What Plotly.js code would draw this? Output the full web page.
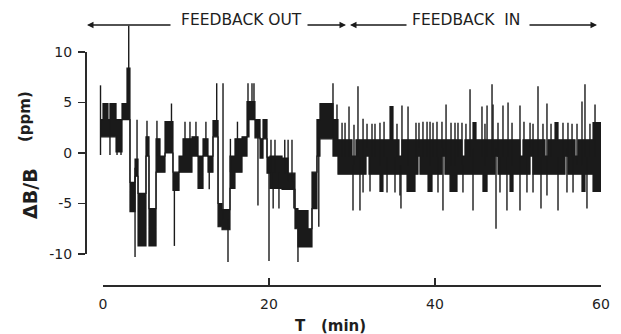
<!DOCTYPE html>
<html>
<head>
<meta charset="utf-8">
<script src="https://cdn.plot.ly/plotly-3.0.1.min.js"></script>
<style>html,body{margin:0;padding:0;background:#fff;}#chart{width:621px;height:334px;}</style>
</head>
<body>
<div id="chart"></div>
<script>
// ---- data (T in minutes, ΔB/B in ppm) ----
// band segments: start time, lower level, upper level (trace switches rapidly between them)
const segT  = [-0.36,0.00,0.60,0.84,1.57,2.29,2.89,3.25,3.86,4.22,5.18,5.54,6.39,6.87,7.47,8.43,9.16,9.64,10.72,11.45,12.05,12.65,13.25,13.86,14.34,15.30,15.90,16.75,17.35,17.59,18.31,18.92,19.28,19.76,20.12,21.57,22.29,23.13,23.49,24.70,25.18,25.78,26.14,27.71,
  28.31,30.00,30.48,31.69,32.05,33.37,33.73,34.58,34.94,35.66,36.02,36.63,37.59,37.95,38.19,39.16,39.64,40.84,41.20,41.81,42.65,43.25,43.61,44.58,44.94,45.78,46.27,47.23,47.59,49.04,49.40,50.24,50.60,51.45,51.81,53.25,53.61,54.46,54.82,55.66,56.02,56.87,57.23,57.71,58.07,59.04];
const segLo = [1.6,1.6,1.6,1.6,0.1,3.3,3.3,-5.8,-2.3,-9.2,-0.3,-9.2,-1.9,-1.9,0.0,-3.7,-1.9,-1.9,-0.3,-3.5,-0.3,-1.9,1.6,-7.3,-7.6,-3.5,-1.9,-0.3,1.6,3.3,1.5,-0.5,1.4,-2.0,-3.5,-3.6,-3.6,-7.5,-9.3,-9.3,-5.5,-0.3,1.4,-0.3,
  -2.1,-2.1,-2.1,-0.3,-2.1,-3.8,-2.1,-2.1,-2.1,-2.1,-2.1,-3.8,-2.1,-0.3,-2.1,-3.8,-2.1,-0.3,-2.1,-3.8,-2.1,-2.1,-2.1,-2.1,-2.1,-3.8,-2.1,-0.3,-2.1,-3.8,-2.1,-2.1,-2.1,-0.3,-2.1,-2.1,-2.1,-2.1,-2.1,-0.3,-2.1,-2.1,-2.1,-3.8,-2.1,-3.8];
const segHi = [3.3,4.9,3.3,4.9,3.3,4.9,8.4,-2.9,-0.6,-4.0,1.6,-5.5,1.4,-0.3,3.1,-1.9,-0.3,1.4,1.6,-0.3,1.4,-0.3,3.2,-5.0,-5.6,-0.3,1.4,1.6,5.1,5.1,3.3,1.4,3.3,-0.4,-0.3,-0.5,-2.0,-5.5,-5.7,-7.5,-1.9,3.3,4.9,3.3,
  1.3,-0.3,1.3,1.3,1.3,1.3,1.3,4.6,1.3,-0.3,1.3,1.3,1.3,1.3,1.3,1.3,1.3,1.3,1.3,1.3,1.3,-0.3,1.3,3.0,1.3,1.3,1.3,1.3,1.3,1.3,1.3,-0.3,1.3,1.3,1.3,-0.3,1.3,3.0,1.3,1.3,1.3,-0.3,1.3,1.3,1.3,3.0];
const tEnd = 60.0;
// isolated excursions (single pen strokes)
const spikeT = [-0.30,-0.30,0.84,1.69,2.17,3.10,3.86,4.10,5.30,6.50,8.25,8.60,9.88,10.48,11.20,12.40,12.80,13.70,14.46,15.06,15.35,16.20,17.47,17.95,18.19,18.67,20.00,20.24,20.50,20.72,21.20,21.90,22.30,22.77,23.00,23.49,26.00,27.71,
  28.19,28.80,29.16,29.64,30.24,30.72,31.33,31.81,32.41,32.77,33.37,33.86,35.42,36.02,36.75,37.71,38.07,38.55,39.04,39.40,39.76,40.24,40.84,41.33,41.93,42.41,42.77,43.25,43.73,44.22,45.66,46.02,46.27,46.87,46.99,47.59,48.19,48.80,49.28,50.24,50.72,51.45,51.81,52.41,53.01,53.49,53.98,55.42,56.02,56.51,57.11,57.71,58.07,58.67,59.28,
  30.12,30.96,31.33,32.17,34.22,35.18,35.78,35.90,40.36,40.96,43.37,44.58,47.35,47.83,48.67,50.24,51.08,51.81,52.77,53.49,54.82,55.90,56.63,58.31];
const spikeV = [6.7,-0.2,-0.2,-0.2,-0.2,12.6,-10.3,3.3,3.2,3.2,4.9,-9.2,3.1,3.1,3.1,3.1,-3.6,6.9,6.9,-10.8,1.4,3.1,6.9,6.9,6.9,-5.2,-10.7,1.3,-5.5,1.3,-5.5,1.3,1.3,1.3,-5.5,-10.8,-7.3,6.9,
  4.8,3.0,3.0,4.6,2.8,6.6,3.4,2.9,2.9,2.9,3.0,3.1,2.9,4.7,4.6,3.0,3.0,3.1,3.1,3.1,3.0,3.1,3.1,4.8,3.0,3.0,3.0,3.0,2.9,6.3,4.6,2.9,4.7,6.8,4.8,3.0,4.7,5.0,3.0,4.7,3.1,3.0,2.9,6.6,2.9,4.9,2.9,3.0,3.0,2.9,2.9,5.1,6.8,2.9,4.8,
  -5.7,-5.7,-3.9,-3.8,-3.9,-3.9,-4.2,-5.5,-3.9,-5.7,-3.9,-5.7,-7.5,-3.9,-5.7,-5.7,-3.9,-3.9,-5.5,-4.2,-5.7,-3.9,-3.9,-5.5];
const xTickVals = [0,20,40,60];
const xTickText = ['0','20','40','60'];
const yTickVals = [-10,-5,0,5,10];
const yTickText = ['-10','-5','0','5','10'];

// ---- build traces ----
const ink = '#1a1a1a';
const bx = segT.concat([tEnd]);
const bLo = segLo.concat([segLo[segLo.length-1]]);
const bHi = segHi.concat([segHi[segHi.length-1]]);
function midAt(t){
  let i = 0;
  for (let k = 0; k < segT.length; k++){ if (segT[k] <= t) i = k; }
  return (segLo[i] + segHi[i]) / 2;
}
const sx = [], sy = [];
spikeT.forEach((t, i) => { sx.push(t, t, null); sy.push(midAt(t), spikeV[i], null); });

const traces = [
  {x: bx, y: bLo, mode: 'lines', line: {shape: 'hv', color: ink, width: 1.2}, hoverinfo: 'skip'},
  {x: bx, y: bHi, mode: 'lines', line: {shape: 'hv', color: ink, width: 1.2}, fill: 'tonexty', fillcolor: ink, hoverinfo: 'skip'},
  {x: sx, y: sy, mode: 'lines', line: {color: ink, width: 1.4}, connectgaps: false, hoverinfo: 'skip'},
  {x: [null], y: [null], xaxis: 'x2', yaxis: 'y2', mode: 'lines', hoverinfo: 'skip'}
];

const W = 621, H = 334;
const px = v => v / W, py = v => 1 - v / H;
const axisCol = '#2a2a2a';
const layout = {
  width: W, height: H, margin: {l: 0, r: 0, t: 0, b: 0},
  paper_bgcolor: '#ffffff', plot_bgcolor: 'rgba(0,0,0,0)', showlegend: false,
  font: {family: 'DejaVu Sans, sans-serif', color: '#1e1e1e'},
  xaxis: {domain: [0, 1], range: [-103/8.3, 518/8.3], visible: false, fixedrange: true},
  yaxis: {domain: [0, 1], range: [-181/10.1, 153/10.1], visible: false, fixedrange: true},
  xaxis2: {domain: [px(103), px(601)], range: [0, 60], anchor: 'free', position: py(285),
    showline: true, linecolor: axisCol, linewidth: 1.5, ticks: 'inside', ticklen: 7, tickwidth: 1.5, tickcolor: axisCol,
    tickvals: xTickVals, ticktext: xTickText, tickfont: {size: 14, color: '#1e1e1e'}, ticklabelstandoff: 6,
    showgrid: false, zeroline: false, fixedrange: true},
  yaxis2: {domain: [py(254), py(52)], range: [-10, 10], anchor: 'free', position: px(85), side: 'left',
    showline: true, linecolor: axisCol, linewidth: 1.5, ticks: 'outside', ticklen: 7, tickwidth: 1.5, tickcolor: axisCol,
    tickvals: yTickVals, ticktext: yTickText, tickfont: {size: 14, color: '#1e1e1e'}, ticklabelstandoff: 3,
    showgrid: false, zeroline: false, fixedrange: true},
  annotations: [
    {xref: 'paper', yref: 'paper', x: px(241), y: py(20), text: 'FEEDBACK OUT', showarrow: false, font: {size: 15.5}, xanchor: 'center', yanchor: 'middle'},
    {xref: 'paper', yref: 'paper', x: px(466), y: py(20), text: 'FEEDBACK\u00a0\u00a0IN', showarrow: false, font: {size: 15.5}, xanchor: 'center', yanchor: 'middle'},
    {xref: 'paper', yref: 'paper', x: px(87), y: py(25), ax: 85, ay: 0, text: '', showarrow: true, arrowhead: 2, arrowsize: 1, arrowwidth: 1.3, arrowcolor: ink},
    {xref: 'paper', yref: 'paper', x: px(346), y: py(25), ax: -40, ay: 0, text: '', showarrow: true, arrowhead: 2, arrowsize: 1, arrowwidth: 1.3, arrowcolor: ink},
    {xref: 'paper', yref: 'paper', x: px(350), y: py(25), ax: 58, ay: 0, text: '', showarrow: true, arrowhead: 2, arrowsize: 1, arrowwidth: 1.3, arrowcolor: ink},
    {xref: 'paper', yref: 'paper', x: px(597), y: py(25), ax: -69, ay: 0, text: '', showarrow: true, arrowhead: 2, arrowsize: 1, arrowwidth: 1.3, arrowcolor: ink},
    {xref: 'paper', yref: 'paper', x: px(330), y: py(326), text: '<b>T\u00a0\u00a0\u00a0(min)</b>', showarrow: false, font: {size: 15}, xanchor: 'center', yanchor: 'middle'},
    {xref: 'paper', yref: 'paper', x: px(30), y: py(194), text: '<b>\u0394B/B</b>', textangle: -90, showarrow: false, font: {size: 19}, xanchor: 'center', yanchor: 'middle'},
    {xref: 'paper', yref: 'paper', x: px(25), y: py(117), text: '<b>(ppm)</b>', textangle: -90, showarrow: false, font: {size: 15}, xanchor: 'center', yanchor: 'middle'}
  ]
};
Plotly.newPlot('chart', traces, layout, {staticPlot: true, displayModeBar: false});
</script>
</body>
</html>
